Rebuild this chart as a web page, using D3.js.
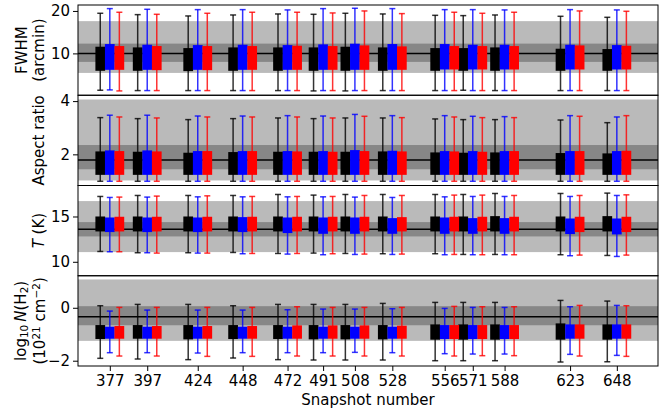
<!DOCTYPE html>
<html>
<head>
<meta charset="utf-8">
<script src="https://cdn.jsdelivr.net/npm/d3@7"></script>
<style>
  body { margin: 0; background: #fff; }
  svg { display: block; font-family: "DejaVu Sans", sans-serif; }
</style>
</head>
<body>
<div id="chart"></div>
<script>
const width = 671;
const height = 414;
const margin = {top: 5, left: 78, bottom: 48, right: 13};
const fontSize = 15;

// snapshot numbers on the x axis
const snapshots = [377, 397, 424, 448, 472, 491, 508, 528, 556, 571, 588, 623, 648];

// each entry: [whisker low, q1, q3, whisker high]
const fwhmBlack = [[1.32,5.9,11.57,19.45],[1.24,5.9,11.41,19.13],[1.24,5.82,11.25,18.82],[1.24,5.9,11.41,19.05],[1.24,5.9,11.41,19.29],[1.16,5.9,11.41,19.21],[1.16,5.9,11.57,19.45],[1.24,5.9,11.41,19.29],[1.24,5.9,11.25,18.97],[1.32,5.9,11.25,18.9],[1.24,5.9,11.41,19.05],[1.24,5.9,11.1,18.74],[1.24,5.9,11.02,18.5]];
const fwhmBlue = [[1.4,6.13,12.2,20.55],[1.24,6.13,12.04,20.39],[1.24,6.13,11.96,20.31],[1.24,6.13,12.04,20.31],[1.24,6.13,11.96,20.24],[1.24,6.13,12.12,20.55],[1.24,6.13,12.28,20.63],[1.24,6.13,12.2,20.55],[1.24,6.21,12.2,20.31],[1.24,6.21,12.04,20.31],[1.24,6.21,12.04,20.24],[1.24,6.21,12.04,20.31],[1.24,6.21,11.96,20.24]];
const fwhmRed = [[1.16,6.13,11.73,19.69],[1.24,6.05,11.73,19.21],[1.24,6.05,11.73,19.45],[1.24,6.13,11.73,19.69],[1.24,6.13,11.8,19.69],[1.24,6.13,11.73,19.53],[1.24,6.13,11.88,20.0],[1.24,6.13,11.65,19.37],[1.24,6.21,11.73,19.69],[1.24,6.21,11.73,19.45],[1.24,6.21,11.73,19.69],[1.24,6.21,11.88,20.0],[1.24,6.21,11.8,19.92]];

const aspectBlack = [[0.99,1.23,2.11,3.38],[0.99,1.23,2.098,3.342],[0.99,1.23,2.061,3.305],[0.99,1.23,2.086,3.342],[0.99,1.23,2.098,3.367],[0.99,1.23,2.098,3.342],[0.99,1.23,2.098,3.367],[0.99,1.23,2.11,3.367],[0.99,1.23,2.073,3.33],[0.99,1.23,2.061,3.305],[0.99,1.23,2.073,3.305],[0.99,1.23,2.049,3.29],[0.99,1.23,2.036,3.19]];
const aspectBlue = [[0.99,1.23,2.148,3.47],[0.99,1.23,2.148,3.47],[0.99,1.23,2.123,3.44],[0.99,1.23,2.123,3.44],[0.99,1.23,2.123,3.454],[0.99,1.23,2.123,3.44],[0.99,1.23,2.16,3.5],[0.99,1.23,2.135,3.454],[0.99,1.23,2.123,3.454],[0.99,1.23,2.123,3.43],[0.99,1.23,2.123,3.417],[0.99,1.23,2.123,3.454],[0.99,1.23,2.123,3.404]];
const aspectRed = [[0.99,1.23,2.123,3.404],[0.99,1.23,2.11,3.367],[0.99,1.23,2.123,3.404],[0.99,1.23,2.123,3.404],[0.99,1.23,2.11,3.404],[0.99,1.23,2.098,3.367],[0.99,1.23,2.123,3.43],[0.99,1.23,2.11,3.38],[0.99,1.23,2.11,3.404],[0.99,1.23,2.098,3.38],[0.99,1.23,2.123,3.38],[0.99,1.23,2.123,3.43],[0.99,1.23,2.135,3.454]];

const tempBlack = [[11.14,13.35,15.0,17.21],[11.0,13.35,15.0,17.32],[11.0,13.35,15.0,17.32],[11.03,13.35,15.0,17.32],[10.92,13.35,15.0,17.43],[10.96,13.35,15.0,17.36],[10.92,13.35,15.0,17.43],[10.89,13.35,15.0,17.43],[10.89,13.35,15.0,17.43],[10.81,13.35,15.0,17.43],[10.81,13.35,15.04,17.54],[10.78,13.35,15.0,17.54],[10.7,13.35,15.04,17.58]];
const tempBlue = [[11.11,13.28,14.89,17.1],[11.0,13.28,14.89,17.14],[10.96,13.28,14.89,17.17],[10.89,13.28,14.93,17.17],[10.85,13.17,14.89,17.17],[10.78,13.09,14.89,17.17],[10.81,13.09,14.89,17.14],[10.81,13.09,14.82,17.1],[10.78,13.09,14.89,17.17],[10.78,13.09,14.82,17.21],[10.78,13.09,14.82,17.21],[10.67,13.06,14.78,17.21],[10.59,13.02,14.78,17.32]];
const tempRed = [[11.11,13.35,14.97,17.14],[10.96,13.35,14.97,17.25],[10.96,13.35,14.97,17.28],[10.92,13.35,14.97,17.21],[10.92,13.35,14.97,17.21],[10.89,13.35,14.97,17.21],[10.85,13.35,14.97,17.32],[10.85,13.35,14.93,17.32],[10.81,13.35,14.97,17.36],[10.78,13.35,14.97,17.36],[10.78,13.35,14.97,17.32],[10.74,13.28,14.97,17.32],[10.74,13.28,14.97,17.39]];

const colBlack = [[-1.91,-1.181,-0.653,0.077],[-1.936,-1.169,-0.653,0.127],[-1.96,-1.194,-0.653,0.127],[-1.898,-1.181,-0.653,0.077],[-1.96,-1.181,-0.653,0.127],[-1.974,-1.194,-0.653,0.127],[-1.974,-1.194,-0.653,0.127],[-1.974,-1.194,-0.653,0.165],[-2.0,-1.206,-0.628,0.203],[-2.0,-1.206,-0.628,0.203],[-2.0,-1.206,-0.628,0.203],[-2.05,-1.206,-0.59,0.278],[-2.04,-1.206,-0.628,0.253]];
const colBlue = [[-1.697,-1.169,-0.716,-0.125],[-1.697,-1.169,-0.716,-0.087],[-1.71,-1.169,-0.716,-0.087],[-1.697,-1.169,-0.716,-0.087],[-1.697,-1.169,-0.716,-0.074],[-1.697,-1.169,-0.716,-0.049],[-1.684,-1.169,-0.716,-0.049],[-1.697,-1.169,-0.716,-0.036],[-1.735,-1.181,-0.653,-0.024],[-1.748,-1.181,-0.653,0.014],[-1.748,-1.181,-0.653,0.014],[-1.76,-1.169,-0.628,0.039],[-1.799,-1.169,-0.628,0.089]];
const colRed = [[-1.823,-1.169,-0.69,0.014],[-1.823,-1.169,-0.69,0.014],[-1.836,-1.169,-0.69,0.014],[-1.836,-1.169,-0.69,0.014],[-1.823,-1.169,-0.666,0.039],[-1.823,-1.169,-0.666,0.014],[-1.823,-1.169,-0.666,0.014],[-1.823,-1.169,-0.678,0.014],[-1.823,-1.181,-0.653,0.052],[-1.81,-1.181,-0.653,0.039],[-1.81,-1.181,-0.653,0.039],[-1.823,-1.169,-0.628,0.089],[-1.836,-1.169,-0.628,0.077]];

// reference bands [low, high] and the median line per panel
const fwhmBands = {light: [5.4, 17.6], dark: [8.0, 12.3], median: 10.0};
const aspectBands = {light: [1.02, 4.06], dark: [1.44, 2.35], median: 1.79};
const tempBands = {light: [11.07, 16.7], dark: [12.8, 14.38], median: 13.6};
const colBands = {light: [-1.25, 1.07], dark: [-0.66, 0.06], median: -0.34};

const fwhmTicks = [10, 20];
const aspectTicks = [2, 4];
const tempTicks = [10, 15];
const colTicks = [-2, 0];

const seriesColors = ['#000000', '#0000ff', '#ff0000'];

const panels = [
  {domain: [0.14, 21.4], ticks: fwhmTicks, bands: fwhmBands, series: [fwhmBlack, fwhmBlue, fwhmRed]},
  {domain: [0.83, 4.22], ticks: aspectTicks, bands: aspectBands, series: [aspectBlack, aspectBlue, aspectRed]},
  {domain: [8.46, 18.42], ticks: tempTicks, bands: tempBands, series: [tempBlack, tempBlue, tempRed]},
  {domain: [-2.2, 1.21], ticks: colTicks, bands: colBands, series: [colBlack, colBlue, colRed]}
];

const panelH = (height - margin.top - margin.bottom) / panels.length;
const plotW = width - margin.left - margin.right;

const x = d3.scaleLinear()
  .domain([360, 670])
  .range([margin.left, width - margin.right]);

const boxW = x(5.2) - x(0);
const offset = 5.1;
const capHalf = 3;

const svg = d3.select('#chart').append('svg')
  .attr('width', width)
  .attr('height', height);

panels.forEach((p, i) => {
  const top = margin.top + i * panelH;
  const y = d3.scaleLinear().domain(p.domain).range([top + panelH, top]);
  const g = svg.append('g');

  g.append('rect')
    .attr('x', margin.left).attr('width', plotW)
    .attr('y', y(p.bands.light[1])).attr('height', y(p.bands.light[0]) - y(p.bands.light[1]))
    .attr('fill', '#bababa');
  g.append('rect')
    .attr('x', margin.left).attr('width', plotW)
    .attr('y', y(p.bands.dark[1])).attr('height', y(p.bands.dark[0]) - y(p.bands.dark[1]))
    .attr('fill', '#878787');
  g.append('line')
    .attr('x1', margin.left).attr('x2', width - margin.right)
    .attr('y1', y(p.bands.median)).attr('y2', y(p.bands.median))
    .attr('stroke', '#000').attr('stroke-width', 1.5);

  p.series.forEach((vals, s) => {
    const shift = (s - 1) * offset;
    const color = seriesColors[s];
    const sg = g.append('g');
    const groups = sg.selectAll('g').data(vals).enter().append('g');

    groups.append('line')
      .attr('x1', (d, k) => x(snapshots[k] + shift))
      .attr('x2', (d, k) => x(snapshots[k] + shift))
      .attr('y1', d => y(d[0])).attr('y2', d => y(d[3]))
      .attr('stroke', color).attr('stroke-opacity', 0.8).attr('stroke-width', 1.5);
    [0, 3].forEach(j => {
      groups.append('line')
        .attr('x1', (d, k) => x(snapshots[k] + shift) - capHalf)
        .attr('x2', (d, k) => x(snapshots[k] + shift) + capHalf)
        .attr('y1', d => y(d[j])).attr('y2', d => y(d[j]))
        .attr('stroke', color).attr('stroke-opacity', 0.8).attr('stroke-width', 1.5);
    });
    groups.append('rect')
      .attr('x', (d, k) => x(snapshots[k] + shift) - boxW / 2)
      .attr('width', boxW)
      .attr('y', d => y(d[2]))
      .attr('height', d => y(d[1]) - y(d[2]))
      .attr('fill', color);
  });

  const yAxis = g.append('g')
    .attr('transform', `translate(${margin.left},0)`)
    .call(d3.axisLeft(y).tickValues(p.ticks).tickSize(5).tickPadding(3)
      .tickFormat(d => d < 0 ? '\u2212' + Math.abs(d) : d));
  yAxis.select('.domain').remove();
  yAxis.selectAll('text').attr('font-size', fontSize).attr('font-family', 'DejaVu Sans').attr('fill', '#000');
  yAxis.selectAll('line').attr('stroke', '#000');

  g.append('rect')
    .attr('x', margin.left).attr('y', top)
    .attr('width', plotW).attr('height', panelH)
    .attr('fill', 'none').attr('stroke', '#000').attr('stroke-width', 1);

  if (i === panels.length - 1) {
    const xAxis = g.append('g')
      .attr('transform', `translate(0,${top + panelH})`)
      .call(d3.axisBottom(x).tickValues(snapshots).tickSize(5).tickPadding(4).tickFormat(d3.format('d')));
    xAxis.select('.domain').remove();
    xAxis.selectAll('text').attr('font-size', fontSize).attr('font-family', 'DejaVu Sans').attr('fill', '#000');
    xAxis.selectAll('line').attr('stroke', '#000');
  }
});

// y-axis titles
function yTitle(cx, cy) {
  return svg.append('text')
    .attr('transform', `translate(${cx},${cy}) rotate(-90)`)
    .attr('text-anchor', 'middle')
    .attr('dy', '0.36em')
    .attr('font-size', fontSize)
    .attr('fill', '#000');
}
const mid = i => margin.top + i * panelH + panelH / 2;

yTitle(21.5, mid(0)).text('FWHM');
yTitle(38.5, mid(0)).text('(arcmin)');
yTitle(38.5, mid(1)).text('Aspect ratio');

const tTitle = yTitle(38.5, mid(2));
tTitle.append('tspan').attr('font-style', 'italic').text('T');
tTitle.append('tspan').text(' (K)');

const nTitle = yTitle(20.5, mid(3));
nTitle.append('tspan').text('log');
nTitle.append('tspan').attr('font-size', 10.5).attr('dy', 2.5).text('10');
nTitle.append('tspan').attr('dy', -2.5).text('\u2009');
nTitle.append('tspan').attr('font-style', 'italic').text('N');
nTitle.append('tspan').text('(H');
nTitle.append('tspan').attr('font-size', 10.5).attr('dy', 2.5).text('2');
nTitle.append('tspan').attr('dy', -2.5).text(')');

const uTitle = yTitle(39.5, mid(3));
uTitle.append('tspan').text('(10');
uTitle.append('tspan').attr('font-size', 10.5).attr('dy', -4.5).text('21');
uTitle.append('tspan').attr('dy', 4.5).text(' cm');
uTitle.append('tspan').attr('font-size', 10.5).attr('dy', -4.5).text('\u22122');
uTitle.append('tspan').attr('dy', 4.5).text(')');

svg.append('text')
  .attr('x', margin.left + plotW / 2)
  .attr('y', 405)
  .attr('text-anchor', 'middle')
  .attr('font-size', fontSize)
  .attr('fill', '#000')
  .text('Snapshot number');
</script>
</body>
</html>
